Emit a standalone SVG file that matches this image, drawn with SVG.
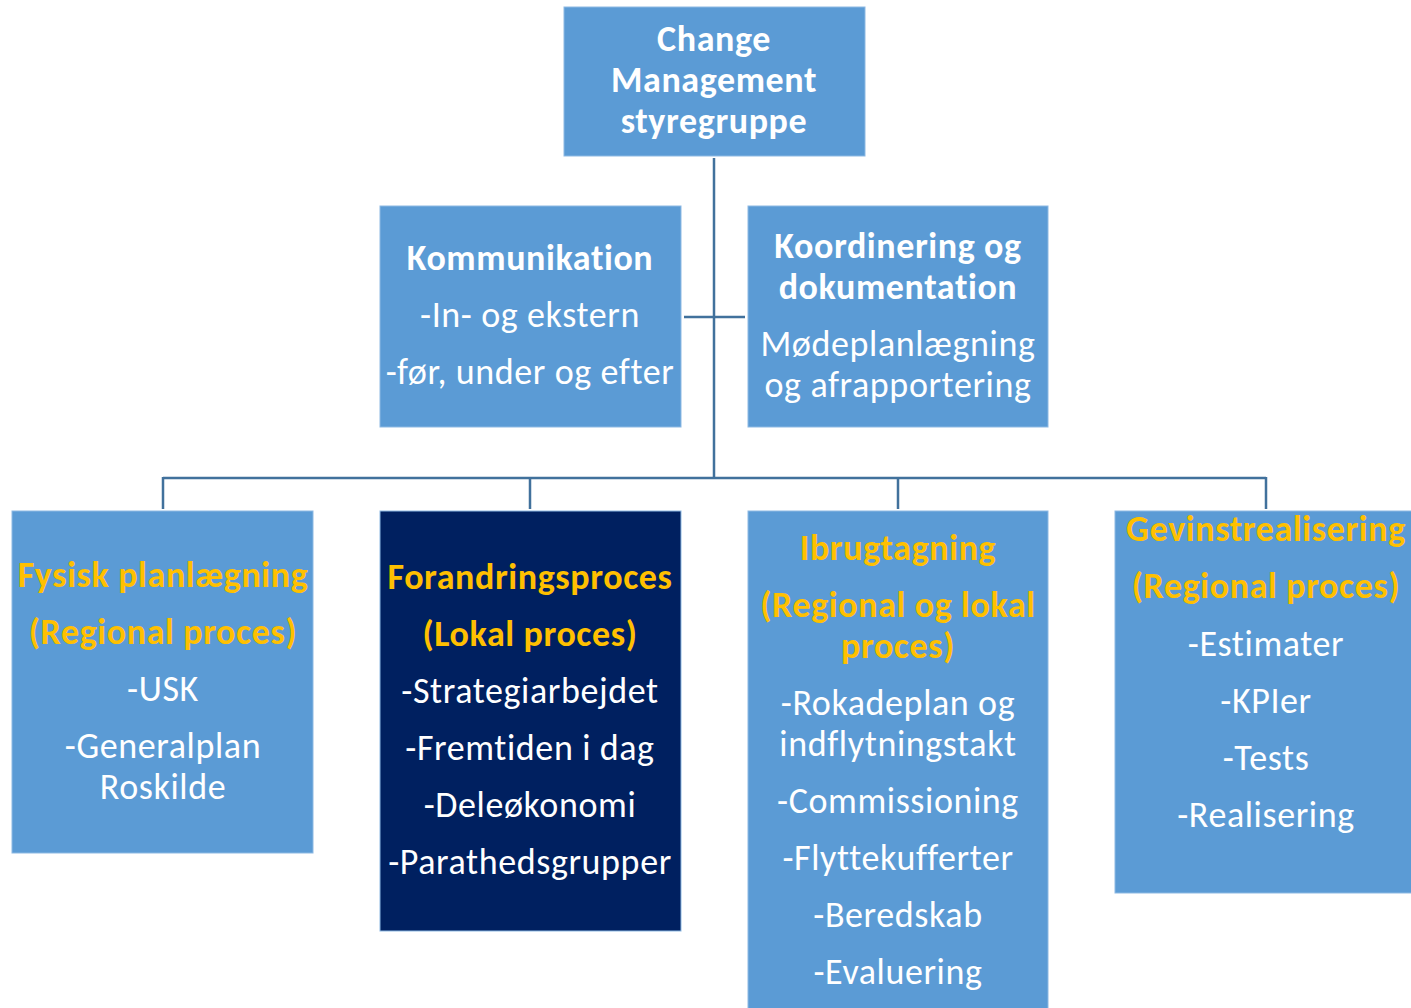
<svg xmlns="http://www.w3.org/2000/svg" width="1411" height="1008" viewBox="0 0 1411 1008">
<style>
.box{fill:#5B9BD5;stroke:#8DB9E3;stroke-width:1}
.dark{fill:#002060;stroke:#8DB9E3;stroke-width:1}
text{font-family:Carlito,Lato,"Open Sans",sans-serif;font-size:36px;letter-spacing:0.6px;font-variant-ligatures:none;text-anchor:middle;fill:#FFFFFF}
.b{font-weight:bold}
.o{fill:#FFC000;font-weight:bold}
.conn{stroke:#41719C;stroke-width:2.5;fill:none}
</style>
<rect width="1411" height="1008" fill="#FFFFFF"/>
<g id="connectors">
<path class="conn" d="M714 158V478"/>
<path class="conn" d="M684 317H745"/>
<path class="conn" d="M163 478H1266"/>
<path class="conn" d="M163 477V509M530 477V509M898 477V509M1266 477V509"/>
</g>
<g id="top">
<rect class="box" x="564" y="7" width="301" height="149"/>
<text class="b" x="714" y="51">Change</text>
<text class="b" x="714" y="92">Management</text>
<text class="b" x="714" y="133">styregruppe</text>
</g>
<g id="kommunikation">
<rect class="box" x="380" y="206" width="301" height="221"/>
<text class="b" x="530" y="270">Kommunikation</text>
<text x="530" y="327">-In- og ekstern</text>
<text x="530" y="384">-før, under og efter</text>
</g>
<g id="koordinering">
<rect class="box" x="748" y="206" width="300" height="221"/>
<text class="b" x="898" y="258">Koordinering og</text>
<text class="b" x="898" y="299">dokumentation</text>
<text x="898" y="356">Mødeplanlægning</text>
<text x="898" y="397">og afrapportering</text>
</g>
<g id="fysisk">
<rect class="box" x="12" y="511" width="301" height="342"/>
<text class="o" x="163" y="587">Fysisk planlægning</text>
<text class="o" x="163" y="644">(Regional proces)</text>
<text x="163" y="701">-USK</text>
<text x="163" y="758">-Generalplan</text>
<text x="163" y="799">Roskilde</text>
</g>
<g id="forandring">
<rect class="dark" x="380" y="511" width="301" height="420"/>
<text class="o" x="530" y="589">Forandringsproces</text>
<text class="o" x="530" y="646">(Lokal proces)</text>
<text x="530" y="703">-Strategiarbejdet</text>
<text x="530" y="760">-Fremtiden i dag</text>
<text x="530" y="817">-Deleøkonomi</text>
<text x="530" y="874">-Parathedsgrupper</text>
</g>
<g id="ibrugtagning">
<rect class="box" x="748" y="511" width="300" height="500"/>
<text class="o" x="898" y="560">Ibrugtagning</text>
<text class="o" x="898" y="617">(Regional og lokal</text>
<text class="o" x="898" y="658">proces)</text>
<text x="898" y="715">-Rokadeplan og</text>
<text x="898" y="756">indflytningstakt</text>
<text x="898" y="813">-Commissioning</text>
<text x="898" y="870">-Flyttekufferter</text>
<text x="898" y="927">-Beredskab</text>
<text x="898" y="984">-Evaluering</text>
</g>
<g id="gevinst">
<rect class="box" x="1115" y="511" width="300" height="382"/>
<text class="o" x="1266" y="541">Gevinstrealisering</text>
<text class="o" x="1266" y="598">(Regional proces)</text>
<text x="1266" y="656">-Estimater</text>
<text x="1266" y="713">-KPIer</text>
<text x="1266" y="770">-Tests</text>
<text x="1266" y="827">-Realisering</text>
</g>
</svg>
